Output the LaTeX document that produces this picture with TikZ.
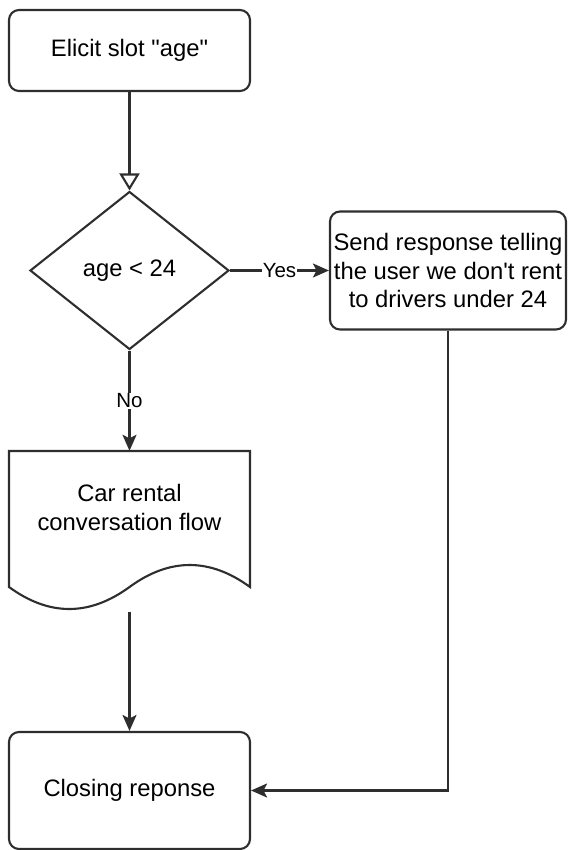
\documentclass[tikz,border=0pt]{standalone}
\usepackage{fontspec}
\setmainfont{Liberation Sans}
\usetikzlibrary{shapes.geometric,arrows.meta,calc}
\begin{document}
\begin{tikzpicture}[x=1pt,y=-1pt,
  ln/.style={line width=2.1pt, draw=black!82},
  txt/.style={font=\fontsize{23.8}{28.5}\selectfont, align=center, text=black},
  box/.style={ln, txt, rounded corners=10pt, inner sep=0pt, fill=white},
  lbl/.style={font=\fontsize{20.5}{24}\selectfont, fill=white, inner sep=1pt, text=black},
  arr/.style={-{Stealth[length=16pt,width=14pt,inset=3.5pt]}},
  openarr/.style={-{Triangle[open,length=17pt,width=20pt,fill=white]}}
]
\useasboundingbox (0,0) rectangle (567,850);

\node[box, minimum width=241pt, minimum height=81pt] (b1) at (129.5,50.5) {Elicit slot \textquotedbl age\textquotedbl};

\node[diamond, ln, txt, fill=white, minimum width=199pt, minimum height=158pt, inner sep=0pt] (dia) at (129.5,270.5) {age < 24};

\node[box, minimum width=236pt, minimum height=118pt] (b2) at (448,270.5) {Send response telling\\the user we don\textquotesingle t rent\\to drivers under 24};

% document shape
\node[minimum width=241pt, minimum height=160.5pt, inner sep=0pt] (doc) at (129.5,531.25) {};
\draw[ln, fill=white] (9,451) -- (250,451) -- (250,587)
  .. controls (209.83,557.67) and (169.67,557.67) .. (129.5,587)
  .. controls (89.33,616.33) and (49.17,616.33) .. (9,587) -- cycle;
\node[txt] (doctext) at (129.5,507.5) {Car rental\\conversation flow};

\node[box, minimum width=241pt, minimum height=117pt] (close) at (129.5,790.5) {Closing reponse};

% connectors
\draw[ln, openarr] (b1.south) -- (dia.north);
\draw[ln, arr] (dia.east) -- node[lbl] {Yes} (b2.west);
\draw[ln, arr] (dia.south) -- node[lbl] {No} (doc.north);
\draw[ln, arr] (doc.south) -- (close.north);
\draw[ln, arr] (b2.south) |- (close.east);
\end{tikzpicture}
\end{document}
